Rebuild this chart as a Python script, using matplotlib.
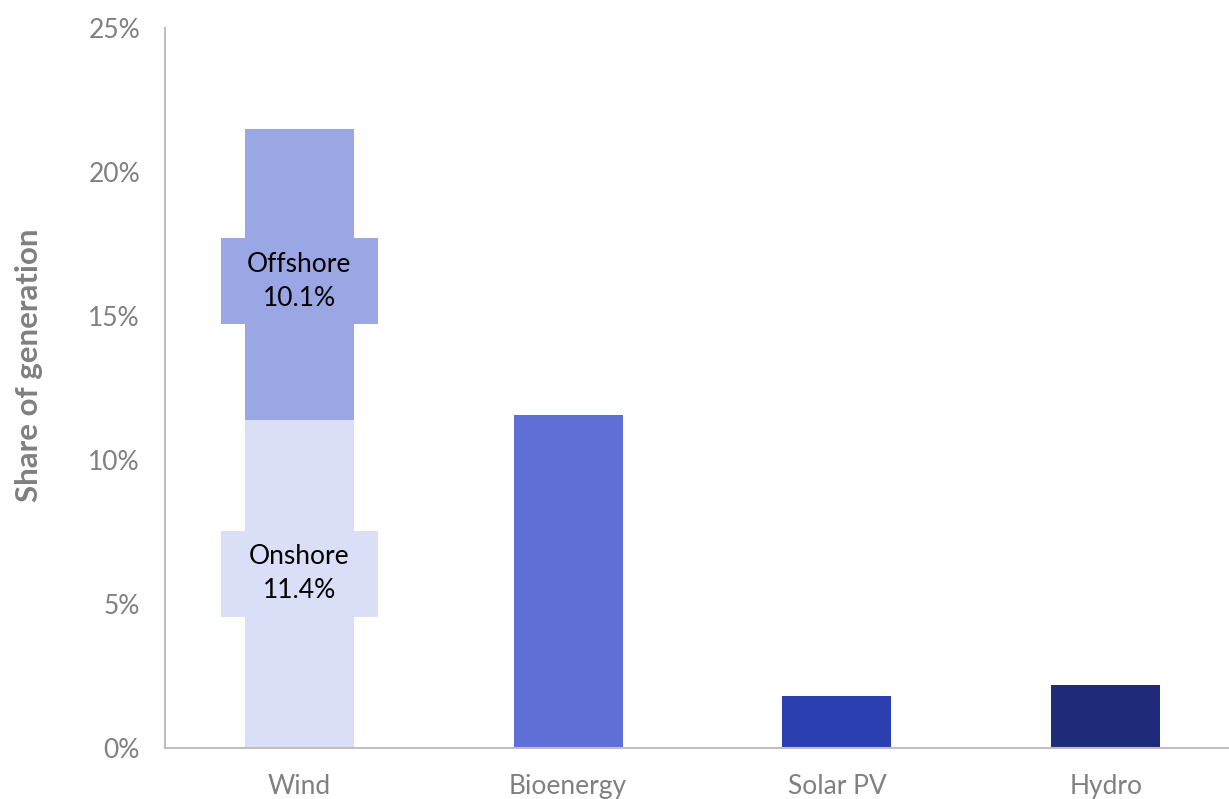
import matplotlib.pyplot as plt
from matplotlib.patches import Rectangle
import numpy as np

# data
categories = ["Wind", "Bioenergy", "Solar PV", "Hydro"]
onshore = 11.4
offshore = 10.1
other_values = [11.55, 1.8, 2.2]   # Bioenergy, Solar PV, Hydro
yticks = [0, 5, 10, 15, 20, 25]

onshore_color = "#DADFF7"
offshore_color = "#9BA6E4"
other_colors = ["#5E6FD6", "#2B3FB0", "#1F2A78"]
grey = "#808080"

plt.rcParams['font.family'] = ['Lato', 'DejaVu Sans']

fig = plt.figure(figsize=(12.29, 7.99), dpi=100)
ax = fig.add_axes([165 / 1229, 51 / 799, 1075 / 1229, 720 / 799])

x = np.arange(len(categories))
width = 0.405

# stacked wind bar
ax.bar(x[0], onshore, width, color=onshore_color)
ax.bar(x[0], offshore, width, bottom=onshore, color=offshore_color)
# the rest
ax.bar(x[1:], other_values, width, color=other_colors)


def box_label(xc, yc, text, color):
    # label box is wider than the bar, like the data callouts in the original
    bw, bh = 0.584, 2.99
    ax.add_patch(Rectangle((xc - bw / 2, yc - bh / 2), bw, bh, fc=color, ec="none", zorder=3))
    ax.text(xc, yc, text, ha="center", va="center", fontsize=19, color="black",
            linespacing=1.45, zorder=4)


box_label(x[0], onshore / 2 + 0.35, f"Onshore\n{onshore:.1f}%", onshore_color)
box_label(x[0], onshore + offshore / 2 - 0.25, f"Offshore\n{offshore:.1f}%", offshore_color)

ax.set_xlim(-0.5, 3.5)
ax.set_ylim(0, 25)
ax.set_yticks(yticks)
ax.set_yticklabels([f"{t}%" for t in yticks])
ax.set_xticks(x)
ax.set_xticklabels(categories)
ax.tick_params(axis="both", length=0, labelsize=19, labelcolor=grey)
ax.tick_params(axis="y", pad=18)
ax.tick_params(axis="x", pad=19)

ax.set_ylabel("Share of generation", fontsize=22.5, fontweight="bold", color=grey)
ax.yaxis.set_label_coords(-0.1135, 0.532)

for side in ["top", "right"]:
    ax.spines[side].set_visible(False)
for side in ["left", "bottom"]:
    ax.spines[side].set_color("#BFBFBF")
    ax.spines[side].set_linewidth(1.5)

fig.savefig("out.png", dpi=100)
